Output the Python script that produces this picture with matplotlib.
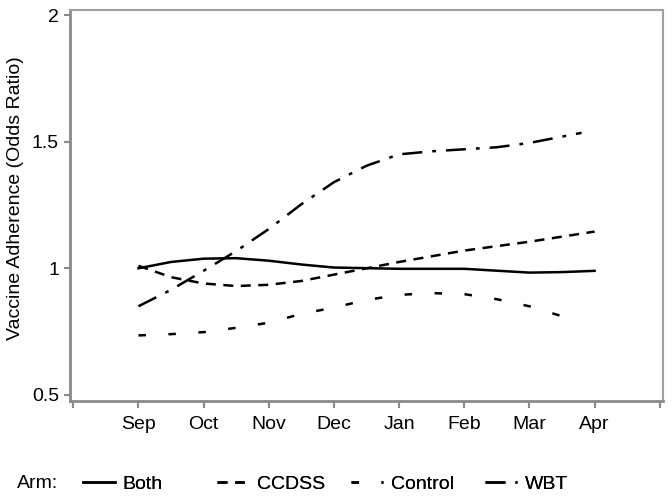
import matplotlib
matplotlib.use('Agg')
import matplotlib.pyplot as plt

plt.rcParams['font.family'] = ['Liberation Sans', 'DejaVu Sans']

# month positions: Sep=1 ... Apr=8 (0 and 9 are unlabeled ticks)
tick_pos = [0, 1, 2, 3, 4, 5, 6, 7, 8, 9]
tick_labels = ['', 'Sep', 'Oct', 'Nov', 'Dec', 'Jan', 'Feb', 'Mar', 'Apr', '']

both_x = [1, 1.5, 2, 2.5, 3, 3.5, 4, 5, 6, 7, 7.5, 8]
both_y = [1.0, 1.025, 1.038, 1.04, 1.03, 1.015, 1.003, 0.998, 0.998, 0.983, 0.985, 0.99]

ccdss_x = [1, 1.5, 2, 2.5, 3, 3.5, 4, 4.5, 5, 6, 7, 8]
ccdss_y = [1.01, 0.965, 0.94, 0.93, 0.935, 0.95, 0.975, 1.0, 1.025, 1.07, 1.105, 1.145]

control_x = [1, 1.5, 2, 2.5, 3, 3.5, 4, 4.5, 5, 5.5, 6, 6.5, 7, 7.7]
control_y = [0.735, 0.74, 0.748, 0.765, 0.785, 0.82, 0.845, 0.875, 0.895, 0.902, 0.898, 0.878, 0.85, 0.795]

wbt_x = [1, 1.5, 2, 2.5, 3, 3.5, 4, 4.5, 5, 5.5, 6, 6.5, 7, 7.5, 7.8]
wbt_y = [0.85, 0.915, 0.99, 1.068, 1.155, 1.253, 1.34, 1.405, 1.45, 1.462, 1.47, 1.478, 1.495, 1.52, 1.535]

arms = ['Both', 'CCDSS', 'Control', 'WBT']

fig = plt.figure(figsize=(6.72, 4.97), dpi=100)
ax = fig.add_axes([70/672, 1 - 401/497, 593/672, 391/497])

lw = 1.8
l1, = ax.plot(both_x, both_y, color='black', lw=lw, linestyle='-', label=arms[0])
l2, = ax.plot(ccdss_x, ccdss_y, color='black', lw=lw, linestyle=(0, (4, 3)), label=arms[1])
l3, = ax.plot(control_x, control_y, color='black', lw=lw, linestyle=(0, (3, 9)), label=arms[2])
l4, = ax.plot(wbt_x, wbt_y, color='black', lw=lw, linestyle=(0, (8, 4, 1.5, 4)), label=arms[3])

ax.set_xlim(-0.05, 9.05)
ax.set_ylim(0.476, 2.02)
ax.set_xticks(tick_pos)
ax.set_xticklabels(tick_labels, fontsize=14)
ax.set_yticks([0.5, 1, 1.5, 2])
ax.set_yticklabels(['0.5', '1', '1.5', '2'], fontsize=14)
ax.set_ylabel('Vaccine Adherence (Odds Ratio)', fontsize=14)
ax.yaxis.set_label_coords(-0.078, 0.52)

for s in ['left', 'bottom']:
    ax.spines[s].set_color('#8a8a8a')
    ax.spines[s].set_linewidth(2)
for s in ['top', 'right']:
    ax.spines[s].set_color('#a0a0a0')
    ax.spines[s].set_linewidth(1.5)
ax.tick_params(axis='both', colors='#8a8a8a', labelcolor='black', width=1.5, length=5)
ax.tick_params(axis='x', pad=6)
ax.tick_params(axis='y', length=4, pad=4)

# legend row: evenly spaced entries like the original
ly = 1 - 484/497
fig.text(17/672, ly, 'Arm:', fontsize=14, va='center', ha='left')
for i, h in enumerate([l1, l2, l3, l4]):
    leg = fig.legend(handles=[h], loc='center left', bbox_to_anchor=((83 + 134*i)/672, ly),
                     frameon=False, fontsize=14, handlelength=1.65, handletextpad=0.4,
                     borderaxespad=0, borderpad=0)
    fig.add_artist(leg)

fig.savefig('out.png', dpi=100)
